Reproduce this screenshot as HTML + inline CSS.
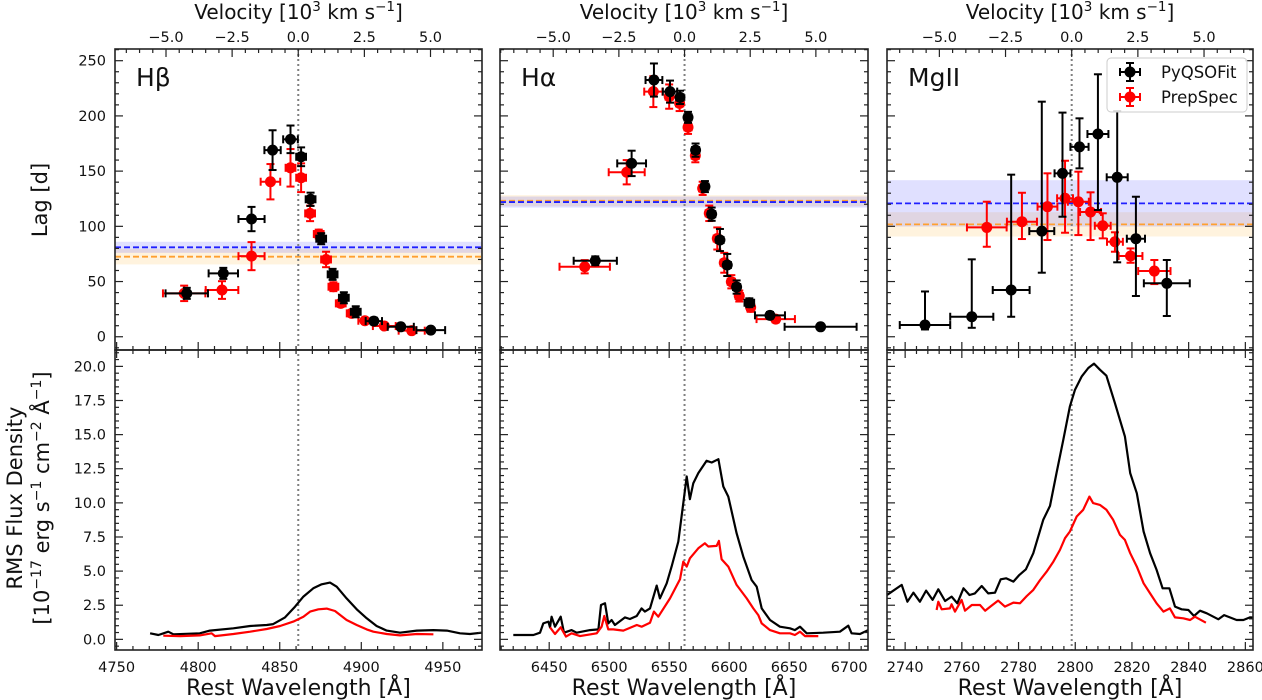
<!DOCTYPE html>
<html><head><meta charset="utf-8">
<style>
html,body{margin:0;padding:0;background:#fff;}
svg{display:block;font-family:"DejaVu Sans","Liberation Sans",sans-serif;}
</style></head>
<body>
<svg id="chart" width="1262" height="700" viewBox="0 0 1262 700"></svg>
<script>
// ---------- DATA ----------
// lags: [wavelength, lag, xerr, yerrUp, yerrDown]
const hbBlack = [[4793,39.3,13,5,5],[4815.4,57.4,9,5,5],[4832.7,106.6,8,11,11],[4845.6,169,5,18,18],[4856.6,178.8,4.5,12.5,12.5],[4863.1,163,3,8.5,8.5],[4868.9,124.5,3,6,6],[4875.4,88.8,3,5,5],[4882.4,56.5,3,5,5],[4889.3,35.3,3,5,5],[4896.6,22.6,3,5,5],[4907.7,14.2,5,3,3],[4924.2,9,8,2,2],[4942.6,6,8.8,2,2]];
const hbRed = [[4791.4,39.3,13,7,7],[4814.6,42.3,10,8,8],[4832.7,73,8,12.7,12.7],[4844.3,140.4,6,16,16],[4856.6,153,3,17,17],[4863.1,144,3,13,13],[4868.6,111.7,3,7,7],[4873.9,93,3,4,4],[4878.4,70,3,7,7],[4882.9,45.3,3,4,4],[4887.4,30.2,3,3,3],[4894.1,21.2,3,3,3],[4902.2,14.5,4,2,2],[4914.1,9.7,7,2,2],[4930.9,5.5,8,2,2]];
const haBlack = [[6488.4,68.8,18,4,4],[6518.7,157,12,11.5,11.5],[6537.3,232.5,7,15,15],[6550.7,222,6,10,10],[6559,216.8,3,6,6],[6565.7,198.7,3,5,5],[6572,169,3,6,6],[6579.8,136,3,5,5],[6585.4,111,3,6,6],[6592.3,87.6,3,10,10],[6598.4,65,3,10,10],[6606.2,45,3,6,6],[6616.8,30.8,4,4,4],[6634,19.4,12.5,3,3],[6676.2,9,30,2,2]];
const haRed = [[6479.6,63.4,21,6,6],[6514.6,149,15,11,11],[6536.8,222,7.6,14,14],[6550,217.5,3,11,11],[6558.7,211.4,3,7,7],[6565.7,189.7,3,6,6],[6571.8,164,3,6,6],[6577.9,134.4,3,6,6],[6583.4,111.8,3,7,7],[6590.1,89,3,10,10],[6595.9,67,3,9,9],[6601.8,49.8,3,6,6],[6608.4,36.9,3,5,5],[6617.9,26.6,3,4,4],[6638.8,16,16,3,3]];
const mgBlack = [[2747.0,10.6,8.9,30.4,4],[2763.5,18.1,7.6,52,10],[2777.4,42.3,6.5,104.5,24.2],[2788.2,95.7,4.4,117.2,37.7],[2795.5,148,2.8,55,39.3],[2801.5,172,3.2,25.8,19.5],[2808.0,183.6,3.7,54.1,68.8],[2814.8,144.4,3.7,60,77],[2821.4,88.8,3.2,38,51.9],[2832.3,48.4,8.1,21.1,29.6]];
const mgRed = [[2768.8,99,7.0,23.3,17.5],[2781.2,104.2,5.3,26.2,15.7],[2790.2,117.8,3.5,30.2,30.2],[2796.4,125.4,2.8,34,31.2],[2801.1,122.3,3.7,27.2,30.2],[2805.4,113,3.7,17.8,25.4],[2809.7,100.5,2.8,11.3,11.4],[2814.0,86,2.8,8.6,9],[2819.5,73.1,4.2,6.9,6.1],[2827.9,59.5,5.7,10,11.8]];
// mean lags: [value, halfwidth]
const hbMean = {pyq:[81,5],prep:[72.5,7]};
const haMean = {pyq:[122,5],prep:[123.2,5]};
const mgMean = {pyq:[120.8,21],prep:[101.8,11]};
// RMS spectra [wavelength, flux]
const hbSpecBlack = [[4770.5,0.44],[4775.6,0.32],[4781.7,0.56],[4784.8,0.37],[4801,0.44],[4807.2,0.64],[4821.6,0.81],[4831.8,0.98],[4842,1.05],[4846,1.12],[4853.2,1.61],[4859.4,2.4],[4864.5,3.13],[4870.6,3.74],[4875.7,4.03],[4880.8,4.16],[4884.9,3.86],[4891,3.0],[4897.2,2.2],[4903.3,1.54],[4909.4,0.98],[4915.6,0.64],[4923.7,0.49],[4934,0.64],[4944.2,0.68],[4952.4,0.64],[4960.5,0.44],[4966.6,0.39],[4973.8,0.49]];
const hbSpecRed = [[4778.6,0.27],[4788.9,0.24],[4801,0.29],[4808.2,0.44],[4810.3,0.24],[4821.6,0.39],[4831.8,0.56],[4842,0.76],[4850.2,0.98],[4858.3,1.3],[4864.5,1.66],[4868.6,2.03],[4873.7,2.2],[4878.8,2.25],[4883.9,2.08],[4891,1.42],[4897.2,1.05],[4903.3,0.73],[4907.4,0.56],[4915.6,0.39],[4923.7,0.29],[4934,0.39],[4944.2,0.37]];
const haSpecBlack = [[6420.1,0.32],[6436.8,0.32],[6442.3,0.49],[6445.1,1.17],[6449.3,1.3],[6450.7,0.88],[6452,1.66],[6454.8,0.93],[6459.6,1.66],[6462.3,0.49],[6468.7,0.68],[6472.9,0.49],[6484,0.68],[6491,0.73],[6493.2,2.52],[6496.5,2.64],[6499.3,1.17],[6502,1.42],[6504.8,1.05],[6513.2,1.61],[6517.3,1.49],[6522.9,1.71],[6527,2.27],[6529.8,2.03],[6534,2.27],[6539.6,3.94],[6542.3,3.0],[6547.9,4.11],[6552,5.33],[6557.6,7.16],[6561.8,9.98],[6564.6,11.93],[6567.3,10.27],[6570.1,11.44],[6574.3,12.18],[6581.2,13.08],[6585.4,12.96],[6591,13.2],[6595.1,11.2],[6599.3,10.46],[6606.2,7.78],[6611.8,6.06],[6618.7,4.35],[6622.9,3.86],[6627.1,2.27],[6634,1.42],[6642.3,0.93],[6650.7,0.81],[6654.8,0.68],[6659,0.93],[6664.6,0.44],[6678.4,0.49],[6692.3,0.56],[6699.3,1.0],[6702,0.44],[6709,0.39],[6715.9,0.68]];
const haSpecRed = [[6450.7,0.88],[6454.8,0.39],[6459.6,0.88],[6464,0.2],[6468.7,0.44],[6475.7,0.24],[6489.6,0.44],[6493.7,0.93],[6495.9,1.71],[6499.3,0.73],[6503.4,0.73],[6511.8,0.64],[6523,1.05],[6527,0.93],[6534,1.22],[6537.3,2.03],[6540.9,1.66],[6550.7,3.0],[6559,4.4],[6561.8,5.7],[6564.6,5.33],[6567.3,5.94],[6574.3,6.67],[6579.8,7.04],[6582.6,6.8],[6589.5,6.85],[6591.4,7.21],[6593.7,5.87],[6599.3,5.33],[6606.2,3.99],[6614.6,3.0],[6620.1,2.27],[6624.3,1.78],[6627.1,1.17],[6634,0.68],[6642.3,0.44],[6650.7,0.44],[6654.8,0.32],[6659,0.56],[6663.2,0.24],[6674.3,0.24]];
const mgSpecBlack = [[2733.6,3.25],[2738.8,3.99],[2740.8,2.76],[2742.9,3.42],[2745.2,2.76],[2747.4,3.57],[2749.7,2.89],[2751.7,3.67],[2754.1,2.81],[2756.4,3.13],[2758.4,2.64],[2760.6,3.74],[2762.7,3.25],[2764.6,3.37],[2767.0,3.91],[2769.3,3.37],[2771.7,3.42],[2773.7,4.4],[2775.6,4.47],[2778.2,4.23],[2780.3,4.72],[2782.6,5.13],[2785.2,6.31],[2788.7,8.75],[2791.1,9.78],[2793.4,12.18],[2795.8,14.62],[2798.1,17.07],[2799.9,18.29],[2802.3,19.27],[2804.6,19.88],[2806.6,20.2],[2808.7,19.76],[2811.0,19.32],[2814.0,17.31],[2817.5,14.87],[2819.4,12.18],[2821.7,10.71],[2824.1,7.9],[2826.4,6.31],[2828.7,5.09],[2830.8,3.74],[2833.2,3.74],[2835.2,2.4],[2837.5,2.2],[2839.9,2.15],[2841.9,1.71],[2844.0,2.1],[2846.4,1.91],[2850.5,1.47],[2852.5,1.78],[2856.9,1.42],[2859.3,1.42],[2861.6,1.61],[2863,1.6]];
const mgSpecRed = [[2751.1,2.15],[2751.7,2.76],[2752.9,2.2],[2755.8,2.27],[2756.4,2.57],[2757.6,2.03],[2759.9,2.89],[2761.1,2.1],[2763.5,2.52],[2766.4,2.52],[2768.2,2.1],[2770.5,2.47],[2772.8,2.84],[2775.2,2.4],[2778.2,2.69],[2780.5,2.64],[2782.9,3.18],[2785.2,3.62],[2787.6,4.35],[2789.9,4.96],[2792.3,5.7],[2794.6,6.55],[2796.4,7.41],[2798.1,7.9],[2800.5,9.0],[2802.8,9.49],[2805.0,10.46],[2806.3,9.98],[2808.7,9.85],[2811.0,9.49],[2813.4,8.75],[2815.8,7.65],[2817.5,7.29],[2819.4,6.31],[2821.7,5.33],[2824.1,4.11],[2826.4,3.37],[2828.7,2.64],[2831.1,2.03],[2833.4,2.27],[2835.2,1.61],[2838.1,1.54],[2840.5,1.42],[2842.2,1.66],[2846.1,1.22]];
const lagTicks = [0,50,100,150,200,250];
const fluxTicks = [0,2.5,5,7.5,10,12.5,15,17.5,20];
const fluxTickLabels = ["0.0","2.5","5.0","7.5","10.0","12.5","15.0","17.5","20.0"];
const velTicks = [-5,-2.5,0,2.5,5];
const velTickLabels = ["−5.0","−2.5","0.0","2.5","5.0"];
const hbWaveTicks = [4750,4800,4850,4900,4950];
const haWaveTicks = [6450,6500,6550,6600,6650,6700];
const mgWaveTicks = [2740,2760,2780,2800,2820,2840,2860];

// ---------- DRAW ----------
const NS="http://www.w3.org/2000/svg";
const svg=document.getElementById('chart');
function el(tag,attrs,parent){const e=document.createElementNS(NS,tag);for(const k in attrs)e.setAttribute(k,attrs[k]);(parent||svg).appendChild(e);return e;}
const C=299792.458;
const TOP={y0:49,y1:350,min:-12,max:260.6};
const BOT={y0:350,y1:650,min:-0.78,max:21.2};
function yTop(v){return TOP.y1-(v-TOP.min)/(TOP.max-TOP.min)*(TOP.y1-TOP.y0);}
function yBot(v){return BOT.y1-(v-BOT.min)/(BOT.max-BOT.min)*(BOT.y1-BOT.y0);}

const panels=[
 {key:'hb',x0:115,x1:482,min:4749,max:4974,l0:4861.35,label:'Hβ',ticks:hbWaveTicks,minor:10,black:hbBlack,red:hbRed,mean:hbMean,sb:hbSpecBlack,sr:hbSpecRed,ylabels:true},
 {key:'ha',x0:500,x1:868,min:6409,max:6715.7,l0:6562.8,label:'Hα',ticks:haWaveTicks,minor:10,black:haBlack,red:haRed,mean:haMean,sb:haSpecBlack,sr:haSpecRed,ylabels:false},
 {key:'mg',x0:887,x1:1253,min:2733.6,max:2862.7,l0:2798.75,label:'MgII',ticks:mgWaveTicks,minor:4,black:mgBlack,red:mgRed,mean:mgMean,sb:mgSpecBlack,sr:mgSpecRed,ylabels:false}
];

panels.forEach(p=>{
  const xs=v=>p.x0+(v-p.min)/(p.max-p.min)*(p.x1-p.x0);
  const g=el('g',{});
  
  
  const clipId='clip-'+p.key;
  const cp=el('clipPath',{id:clipId},g);
  el('rect',{x:p.x0,y:TOP.y0,width:p.x1-p.x0,height:BOT.y1-TOP.y0},cp);
  const inner=el('g',{'clip-path':'url(#'+clipId+')'},g);
  const bands=[['prep','#ffa500'],['pyq','#0000ff']];
  bands.forEach(b=>{
    const m=p.mean[b[0]];
    const r=el('rect',{x:p.x0,y:yTop(m[0]+m[1]),width:p.x1-p.x0,height:yTop(m[0]-m[1])-yTop(m[0]+m[1]),fill:b[1],'fill-opacity':b[0]=='pyq'?0.12:0.13},inner);
    
    
  });
  bands.forEach(b=>{
    const m=p.mean[b[0]];
    const l=el('line',{x1:p.x0,x2:p.x1,y1:yTop(m[0]),y2:yTop(m[0]),stroke:b[0]=='pyq'?'#2020ff':'#ffa030','stroke-width':1.8,'stroke-dasharray':'6,3'},inner);
    
    
  });
  const dl=el('line',{x1:xs(p.l0),x2:xs(p.l0),y1:TOP.y0,y2:BOT.y1,stroke:'#808080','stroke-width':2,'stroke-dasharray':'2,3'},inner);
  
  
  [['red','#ff0000',p.red],['black','#000',p.black]].forEach(s=>{
    const sg=el('g',{},inner);
    
    
    s[2].forEach(d=>{
      const cx=xs(d[0]),cy=yTop(d[1]);
      const xl=xs(d[0]-d[2]),xr=xs(d[0]+d[2]),yu=yTop(d[1]+d[3]),yd=yTop(d[1]-d[4]);
      el('line',{x1:xl,x2:xr,y1:cy,y2:cy,stroke:s[1],'stroke-width':2},sg);
      el('line',{x1:cx,x2:cx,y1:yu,y2:yd,stroke:s[1],'stroke-width':2},sg);
      [[xl,cy,0],[xr,cy,0],[cx,yu,1],[cx,yd,1]].forEach(c=>{
        if(c[2])el('line',{x1:c[0]-4,x2:c[0]+4,y1:c[1],y2:c[1],stroke:s[1],'stroke-width':2},sg);
        else el('line',{x1:c[0],x2:c[0],y1:c[1]-4,y2:c[1]+4,stroke:s[1],'stroke-width':2},sg);
      });
      const pt=el('circle',{cx:cx,cy:cy,r:5.5,fill:s[1]},sg);
      
      
    });
  });
  [['black','#000',p.sb],['red','#ff0000',p.sr]].forEach(s=>{
    const d=s[2].map((q,i)=>(i?'L':'M')+xs(q[0]).toFixed(1)+','+yBot(q[1]).toFixed(1)).join('');
    const pa=el('path',{d:d,fill:'none',stroke:s[1],'stroke-width':2.2,'stroke-linejoin':'round'},inner);
    
    
  });
  [[TOP.y0,TOP.y1],[BOT.y0,BOT.y1]].forEach(f=>{
    el('rect',{x:p.x0,y:f[0],width:p.x1-p.x0,height:f[1]-f[0],fill:'none',stroke:'#222','stroke-width':1.6},g);
  });
  for(let v=Math.ceil(p.min/p.minor)*p.minor; v<=p.max; v+=p.minor){
    const X=xs(v);const major=p.ticks.indexOf(Math.round(v))>=0;const L=major?8:4;
    [[TOP.y1,-1],[BOT.y0,1],[BOT.y1,-1]].forEach(t=>el('line',{x1:X,x2:X,y1:t[0],y2:t[0]+t[1]*L,stroke:'#222','stroke-width':1.2},g));
  }
  p.ticks.forEach(v=>{
    const t=el('text',{x:xs(v),y:672,'font-size':14.5,'text-anchor':'middle',fill:'#111'},g);
    t.textContent=v;
    
    
  });
  const xv=v=>xs(p.l0*(1+v*1000/C));
  for(let v=-7;v<=7.001;v+=0.5){
    const X=xv(v);if(X<p.x0||X>p.x1)continue;
    const major=Math.abs(v/2.5-Math.round(v/2.5))<1e-6;
    el('line',{x1:X,x2:X,y1:TOP.y0,y2:TOP.y0+(major?8:4),stroke:'#222','stroke-width':1.2},g);
  }
  velTicks.forEach((v,i)=>{
    const t=el('text',{x:xv(v),y:42,'font-size':14.5,'text-anchor':'middle',fill:'#111'},g);
    t.textContent=velTickLabels[i];
    
    
  });
  const vt=el('text',{x:(p.x0+p.x1)/2,y:19,'font-size':20,'text-anchor':'middle',fill:'#111'},g);
  vt.innerHTML='Velocity [10<tspan dy="-8" font-size="13.5">3</tspan><tspan dy="8"> km s</tspan><tspan dy="-8" font-size="13.5">−1</tspan><tspan dy="8">]</tspan>';
  
  
  const xt=el('text',{x:(p.x0+p.x1)/2,y:695,'font-size':22,'text-anchor':'middle',fill:'#111'},g);
  xt.textContent='Rest Wavelength [Å]';
  
  
  for(let v=-10;v<=260;v+=10){
    const Y=yTop(v);if(Y<TOP.y0||Y>TOP.y1)continue;const L=(v%50==0)?8:4;
    el('line',{x1:p.x0,x2:p.x0+L,y1:Y,y2:Y,stroke:'#222','stroke-width':1.2},g);
    el('line',{x1:p.x1,x2:p.x1-L,y1:Y,y2:Y,stroke:'#222','stroke-width':1.2},g);
  }
  for(let k=-1;k<=42;k++){
    const v=k*0.5;const Y=yBot(v);if(Y<BOT.y0||Y>BOT.y1)continue;const L=(k%5==0)?8:4;
    el('line',{x1:p.x0,x2:p.x0+L,y1:Y,y2:Y,stroke:'#222','stroke-width':1.2},g);
    el('line',{x1:p.x1,x2:p.x1-L,y1:Y,y2:Y,stroke:'#222','stroke-width':1.2},g);
  }
  if(p.ylabels){
    lagTicks.forEach(v=>{
      const t=el('text',{x:p.x0-9,y:yTop(v)+5,'font-size':14.5,'text-anchor':'end',fill:'#111'},g);
      t.textContent=v;
      
      
    });
    fluxTicks.forEach((v,i)=>{
      const t=el('text',{x:p.x0-9,y:yBot(v)+5,'font-size':14.5,'text-anchor':'end',fill:'#111'},g);
      t.textContent=fluxTickLabels[i];
      
      
    });
  }
  const lb=el('text',{x:p.x0+21,y:86,'font-size':25,fill:'#111'},g);
  lb.textContent=p.label;
  
  
});

const yl=el('text',{transform:'translate(47,200) rotate(-90)','font-size':21,'text-anchor':'middle',fill:'#111'});
yl.textContent='Lag [d]';


const yf1=el('text',{transform:'translate(22,498) rotate(-90)','font-size':21,'text-anchor':'middle',fill:'#111'});
yf1.textContent='RMS Flux Density';


const yf2=el('text',{transform:'translate(49,498) rotate(-90)','font-size':21,'text-anchor':'middle',fill:'#111'});
yf2.innerHTML='[10<tspan dy="-8" font-size="14">−17</tspan><tspan dy="8"> erg s</tspan><tspan dy="-8" font-size="14">−1</tspan><tspan dy="8"> cm</tspan><tspan dy="-8" font-size="14">−2</tspan><tspan dy="8"> Å</tspan><tspan dy="-8" font-size="14">−1</tspan><tspan dy="8">]</tspan>';



const lg=el('g',{});


el('rect',{x:1107,y:58,width:140,height:54,rx:4,fill:'#fff','fill-opacity':0.85,stroke:'#ccc','stroke-width':1},lg);
[['PyQSOFit','#000',72],['PrepSpec','#ff0000',97]].forEach(e=>{
  const eg=el('g',{},lg);
  
  
  el('line',{x1:1120,x2:1140,y1:e[2],y2:e[2],stroke:e[1],'stroke-width':2},eg);
  el('line',{x1:1130,x2:1130,y1:e[2]-9,y2:e[2]+9,stroke:e[1],'stroke-width':2},eg);
  el('line',{x1:1126,x2:1134,y1:e[2]-9,y2:e[2]-9,stroke:e[1],'stroke-width':2},eg);
  el('line',{x1:1126,x2:1134,y1:e[2]+9,y2:e[2]+9,stroke:e[1],'stroke-width':2},eg);
  el('line',{x1:1120,x2:1120,y1:e[2]-4,y2:e[2]+4,stroke:e[1],'stroke-width':2},eg);
  el('line',{x1:1140,x2:1140,y1:e[2]-4,y2:e[2]+4,stroke:e[1],'stroke-width':2},eg);
  el('circle',{cx:1130,cy:e[2],r:5.5,fill:e[1]},eg);
  const t=el('text',{x:1161,y:e[2]+6,'font-size':16.5,fill:'#111'},eg);
  t.textContent=e[0];
});
</script>
</body></html>
